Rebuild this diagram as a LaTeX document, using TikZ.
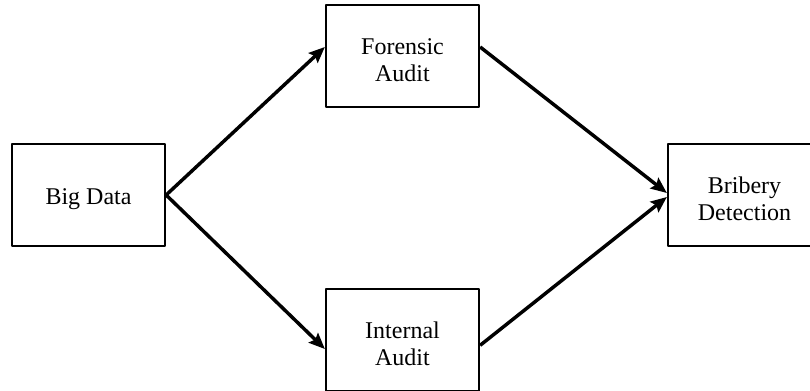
\documentclass[tikz,border=0pt]{standalone}
\usepackage{fontspec}
\setmainfont{Liberation Serif}
\usetikzlibrary{arrows.meta}
\newcommand{\topgap}{\rule{0pt}{18pt}}
\begin{document}
\begin{tikzpicture}[x=0.75pt, y=-0.75pt, font=\fontsize{18pt}{20pt}\selectfont, line join=round, >={Stealth[length=12pt, width=10pt, inset=2pt]},
	box/.style={draw, line width=1.7pt, minimum width=114.75pt, minimum height=76.5pt, align=center, inner sep=0pt},
	link/.style={->, line width=2.6pt}]
	\useasboundingbox (0,0) rectangle (810,391);
	\node[box] (bigdata) at (88.5,195) {\topgap Big Data};
	\node[box] (forensic) at (402.5,56) {\topgap Forensic\\Audit};
	\node[box] (internal) at (402.5,340) {\topgap Internal\\Audit};
	\node[box] (bribery) at (744.5,195) {\topgap Bribery\\Detection};
	\draw[link] (bigdata.east)--([yshift=6.75pt]forensic.west);
	\draw[link] (bigdata.east)--([yshift=-6.75pt]internal.west);
	\draw[link] ([yshift=6.75pt]forensic.east)--([yshift=1.5pt]bribery.west);
	\draw[link] ([yshift=-4pt]internal.east)--([yshift=-1.5pt]bribery.west);
\end{tikzpicture}
\end{document}
